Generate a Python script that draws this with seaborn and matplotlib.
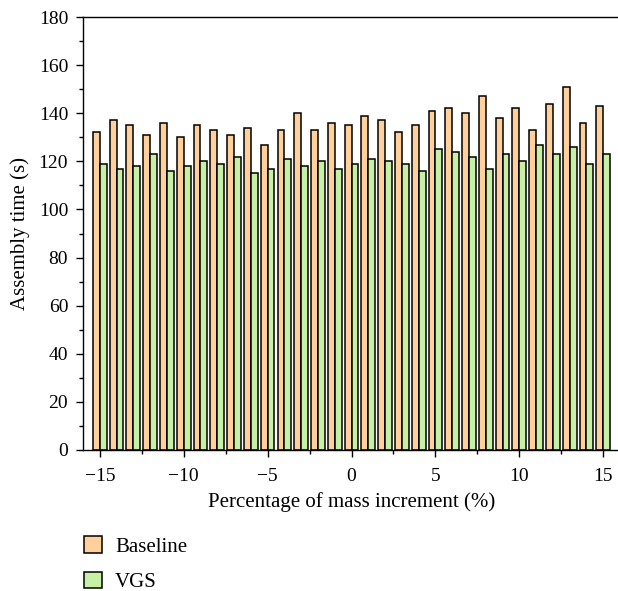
import numpy as np
import pandas as pd
import matplotlib
matplotlib.use("Agg")
import matplotlib.pyplot as plt
from matplotlib.ticker import MultipleLocator
import seaborn as sns

sns.set_theme(style="ticks")
plt.rcParams["font.family"] = ["Liberation Serif", "DejaVu Serif"]
plt.rcParams["text.color"] = "black"

mass_increment = list(range(-15, 16))
baseline_time = [132, 137, 135, 131, 136, 130, 135, 133, 131, 134, 127,
                 133, 140, 133, 136, 135, 139, 137, 132, 135, 141, 142,
                 140, 147, 138, 142, 133, 144, 151, 136, 143]
vgs_time = [119, 117, 118, 123, 116, 118, 120, 119, 122, 115, 117,
            121, 118, 120, 117, 119, 121, 120, 119, 116, 125, 124,
            122, 117, 123, 120, 127, 123, 126, 119, 123]
series_names = ["Baseline", "VGS"]
series_colors = ["#FFD09C", "#C6F0A6"]

_TICK_SIZE = 14
_LABEL_SIZE = 15

df = pd.concat(
    [
        pd.DataFrame({"Mass": mass_increment, "Time": baseline_time, "Method": series_names[0]}),
        pd.DataFrame({"Mass": mass_increment, "Time": vgs_time, "Method": series_names[1]}),
    ],
    ignore_index=True,
)

fig = plt.figure(figsize=(6.18, 5.91), dpi=100)
ax = fig.add_axes([0.1343, 0.2386, 0.869, 0.7326])

sns.barplot(
    data=df,
    x="Mass",
    y="Time",
    hue="Method",
    hue_order=series_names,
    palette=dict(zip(series_names, series_colors)),
    native_scale=True,
    width=0.82,
    edgecolor="black",
    linewidth=1.1,
    saturation=1,
    errorbar=None,
    ax=ax,
)

ax.set_xlim(-16, 16)
ax.set_ylim(0, 180)
ax.xaxis.set_major_locator(MultipleLocator(5))
ax.xaxis.set_minor_locator(MultipleLocator(2.5))
ax.yaxis.set_major_locator(MultipleLocator(20))
ax.yaxis.set_minor_locator(MultipleLocator(10))
ax.tick_params(which="major", direction="out", length=5, width=1,
               labelsize=_TICK_SIZE, color="black", labelcolor="black")
ax.tick_params(which="minor", direction="out", length=3, width=1, color="black")
ax.tick_params(axis="x", which="major", pad=8)
ax.tick_params(axis="y", which="major", pad=5.7)
for spine in ax.spines.values():
    spine.set_visible(True)
    spine.set_color("black")
    spine.set_linewidth(1.0)

ax.set_xlabel("Percentage of mass increment (%)", fontsize=_LABEL_SIZE,
              color="black", labelpad=5)
ax.set_ylabel("Assembly time (s)", fontsize=_LABEL_SIZE, color="black",
              labelpad=6.5)

ax.legend_.remove()
handles, labels = ax.get_legend_handles_labels()
fig.legend(
    handles,
    labels,
    loc="upper left",
    bbox_to_anchor=(84 / 618, 1 - 536 / 591),
    bbox_transform=fig.transFigure,
    frameon=False,
    fontsize=_LABEL_SIZE,
    labelcolor="black",
    handlelength=0.87,
    handleheight=0.85,
    handletextpad=0.63,
    labelspacing=0.72,
    borderpad=0,
    borderaxespad=0,
)

fig.savefig("out.png", dpi=100)
plt.close(fig)
